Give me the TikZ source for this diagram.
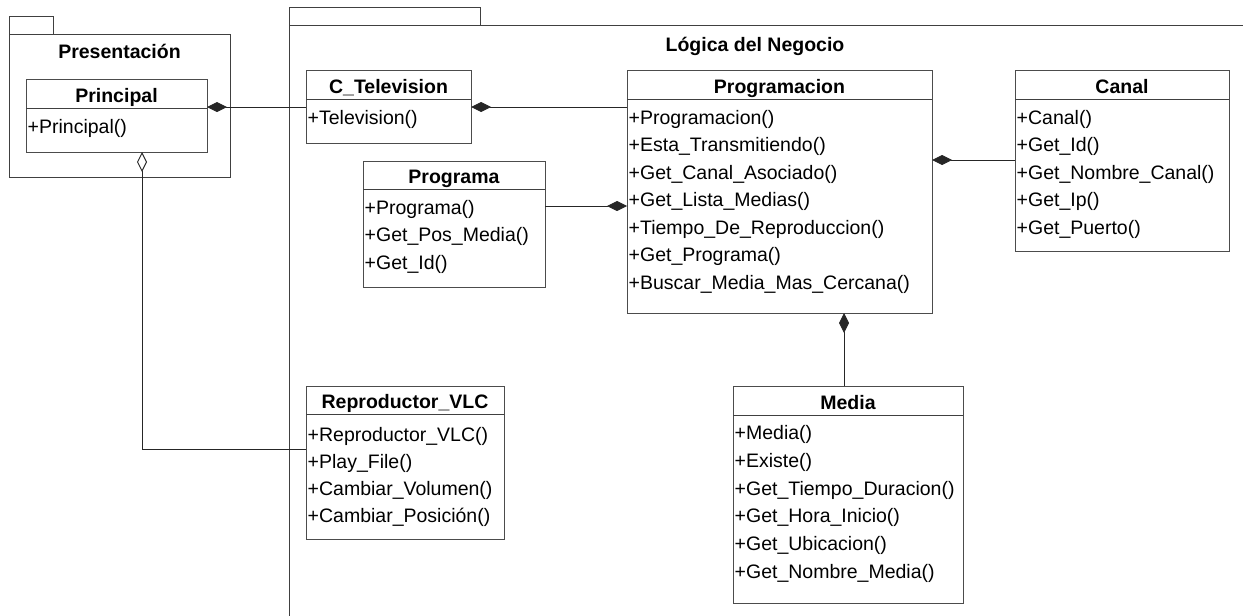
\documentclass[tikz,border=0pt]{standalone}
\usepackage{fontspec}
\setmainfont{Liberation Sans}
\usetikzlibrary{arrows.meta,calc}

\newcommand{\umlsize}{\fontsize{19.5}{23}\selectfont}
\tikzset{
  frame/.style={draw=black!75, line width=0.9pt},
  classbox/.style={draw=black!70, line width=0.9pt, fill=white, inner sep=0pt, outer sep=0pt, anchor=north west},
  ctitle/.style={font=\umlsize\bfseries, inner sep=0pt, anchor=base},
  member/.style={font=\umlsize, inner sep=0pt, anchor=base west},
  link/.style={draw=black!85, line width=0.9pt},
  comp/.style={link, {Diamond[length=20pt,width=10pt]}-},
  aggr/.style={link, {Diamond[open,length=20pt,width=10pt,fill=white]}-},
}

\begin{document}
\begin{tikzpicture}[x=1pt,y=-1pt]
\useasboundingbox (0,0) rectangle (1243,616);

% package: Presentacion
\draw[frame] (9,34) rectangle (53,16);
\draw[frame] (9,34) rectangle (230,177);
\node[ctitle] (pkgpres) at (119.5,58) {Presentación};

% package: Logica del Negocio (runs past the page edges)
\draw[frame] (289,25) rectangle (480,7);
\draw[frame] (289,616) -- (289,25) -- (1243,25);
\node[ctitle] (pkglog) at (755,51) {Lógica del Negocio};

% class Principal
\node[classbox, minimum width=181pt, minimum height=73pt] (princ) at (26,79) {};
\draw[frame] ($(princ.north west)+(0,29)$) -- ($(princ.north east)+(0,29)$);
\node[ctitle] (princT) at ($(princ.north)+(0,23)$) {Principal};
\node[member] (princ1) at ($(princ.north west)+(1.5,54)$) {+Principal()};

% class C_Television
\node[classbox, minimum width=165pt, minimum height=73pt] (tv) at (306,70) {};
\draw[frame] ($(tv.north west)+(0,29)$) -- ($(tv.north east)+(0,29)$);
\node[ctitle] (tvT) at ($(tv.north)+(0,23)$) {C\_Television};
\node[member] (tv1) at ($(tv.north west)+(1.5,54)$) {+Television()};

% class Programa
\node[classbox, minimum width=182pt, minimum height=126pt] (pgm) at (363,161) {};
\draw[frame] ($(pgm.north west)+(0,28)$) -- ($(pgm.north east)+(0,28)$);
\node[ctitle] (pgmT) at ($(pgm.north)+(0,22)$) {Programa};
\node[member] (pgm1) at ($(pgm.north west)+(1.5,53)$) {+Programa()};
\node[member] (pgm2) at ($(pgm.north west)+(1.5,80.5)$) {+Get\_Pos\_Media()};
\node[member] (pgm3) at ($(pgm.north west)+(1.5,108)$) {+Get\_Id()};

% class Programacion
\node[classbox, minimum width=305pt, minimum height=243pt] (prog) at (627,70) {};
\draw[frame] ($(prog.north west)+(0,29)$) -- ($(prog.north east)+(0,29)$);
\node[ctitle] (progT) at ($(prog.north)+(0,23)$) {Programacion};
\node[member] (prog1) at ($(prog.north west)+(1.5,54)$) {+Programacion()};
\node[member] (prog2) at ($(prog.north west)+(1.5,81.5)$) {+Esta\_Transmitiendo()};
\node[member] (prog3) at ($(prog.north west)+(1.5,109)$) {+Get\_Canal\_Asociado()};
\node[member] (prog4) at ($(prog.north west)+(1.5,136.5)$) {+Get\_Lista\_Medias()};
\node[member] (prog5) at ($(prog.north west)+(1.5,164)$) {+Tiempo\_De\_Reproduccion()};
\node[member] (prog6) at ($(prog.north west)+(1.5,191.5)$) {+Get\_Programa()};
\node[member] (prog7) at ($(prog.north west)+(1.5,219)$) {+Buscar\_Media\_Mas\_Cercana()};

% class Canal
\node[classbox, minimum width=214pt, minimum height=181pt] (canal) at (1015,70) {};
\draw[frame] ($(canal.north west)+(0,29)$) -- ($(canal.north east)+(0,29)$);
\node[ctitle] (canalT) at ($(canal.north)+(0,23)$) {Canal};
\node[member] (canal1) at ($(canal.north west)+(1.5,54)$) {+Canal()};
\node[member] (canal2) at ($(canal.north west)+(1.5,81.5)$) {+Get\_Id()};
\node[member] (canal3) at ($(canal.north west)+(1.5,109)$) {+Get\_Nombre\_Canal()};
\node[member] (canal4) at ($(canal.north west)+(1.5,136.5)$) {+Get\_Ip()};
\node[member] (canal5) at ($(canal.north west)+(1.5,164)$) {+Get\_Puerto()};

% class Reproductor_VLC
\node[classbox, minimum width=198pt, minimum height=153pt] (vlc) at (306,386) {};
\draw[frame] ($(vlc.north west)+(0,28)$) -- ($(vlc.north east)+(0,28)$);
\node[ctitle] (vlcT) at ($(vlc.north)+(0,22)$) {Reproductor\_VLC};
\node[member] (vlc1) at ($(vlc.north west)+(1.5,55)$) {+Reproductor\_VLC()};
\node[member] (vlc2) at ($(vlc.north west)+(1.5,82)$) {+Play\_File()};
\node[member] (vlc3) at ($(vlc.north west)+(1.5,109)$) {+Cambiar\_Volumen()};
\node[member] (vlc4) at ($(vlc.north west)+(1.5,136.5)$) {+Cambiar\_Posición()};

% class Media
\node[classbox, minimum width=230pt, minimum height=217pt] (media) at (733,386) {};
\draw[frame] ($(media.north west)+(0,29)$) -- ($(media.north east)+(0,29)$);
\node[ctitle] (mediaT) at ($(media.north)+(0,23)$) {Media};
\node[member] (media1) at ($(media.north west)+(1.5,53)$) {+Media()};
\node[member] (media2) at ($(media.north west)+(1.5,81)$) {+Existe()};
\node[member] (media3) at ($(media.north west)+(1.5,109)$) {+Get\_Tiempo\_Duracion()};
\node[member] (media4) at ($(media.north west)+(1.5,136.5)$) {+Get\_Hora\_Inicio()};
\node[member] (media5) at ($(media.north west)+(1.5,164)$) {+Get\_Ubicacion()};
\node[member] (media6) at ($(media.north west)+(1.5,192)$) {+Get\_Nombre\_Media()};

% associations
\draw[comp] ($(princ.north east)+(0,28)$) -- ($(tv.north west)+(0,37)$);
\draw[comp] ($(tv.north east)+(0,37)$) -- ($(prog.north west)+(0,37)$);
\draw[comp] ($(prog.north west)+(0,136)$) -- ($(pgm.north east)+(0,45)$);
\draw[comp] ($(prog.north east)+(0,90)$) -- ($(canal.north west)+(0,90)$);
\draw[comp] ($(prog.south west)+(217,0)$) -- ($(media.north west)+(111,0)$);
\draw[aggr] ($(princ.south west)+(116,0)$) |- ($(vlc.north west)+(0,63)$);
\end{tikzpicture}
\end{document}
